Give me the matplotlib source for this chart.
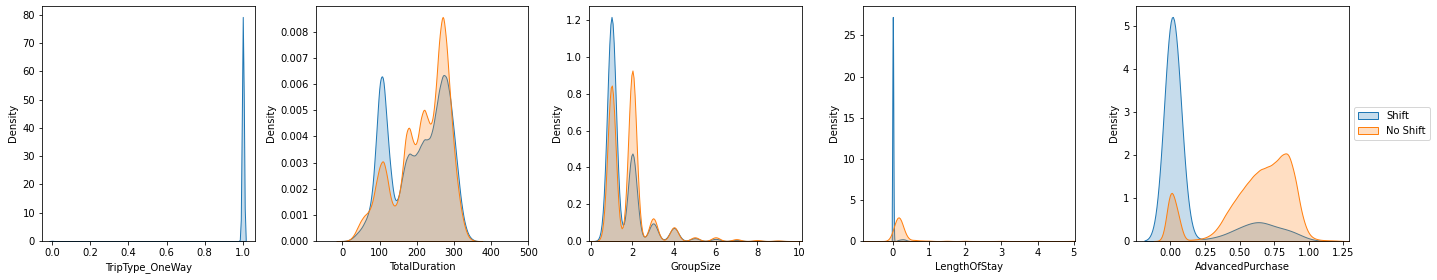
import numpy as np
import pandas as pd
import matplotlib
matplotlib.use("Agg")
import matplotlib.pyplot as plt
import seaborn as sns

# ---- data: share of passengers (%) at each value, per class ----
labels = ["Shift", "No Shift"]
colors = ["#1f77b4", "#ff7f0e"]

# TripType_OneWay (No Shift has no variance -> no curve)
trip_vals = [0.0, 1.0]
trip_shift = [0.1, 99.9]

# TotalDuration (minutes)
dur_vals = [10, 20, 30, 40, 50, 60, 70, 80, 90, 100, 110, 120, 130, 140, 150, 160, 170, 180,
            190, 200, 210, 220, 230, 240, 250, 260, 270, 280, 290, 300, 310, 320, 330, 340, 350]
dur_shift = [0.01, 0.05, 0.15, 0.3, 0.45, 0.7, 1.0, 1.7, 3.6, 6.1, 6.3, 4.2, 2.5, 1.4, 1.5, 2.3, 3.0, 3.3,
             3.1, 3.2, 3.5, 3.8, 3.7, 3.9, 4.7, 5.6, 6.2, 6.1, 5.3, 4.0, 2.6, 1.3, 0.55, 0.18, 0.05]
dur_noshift = [0.01, 0.05, 0.2, 0.5, 0.8, 1.0, 1.1, 1.4, 2.2, 2.9, 3.2, 2.5, 1.55, 1.25, 1.55, 2.4, 4.2, 4.5,
               3.7, 3.6, 4.7, 5.2, 4.6, 4.3, 5.5, 7.8, 9.0, 7.6, 5.4, 3.5, 2.1, 1.1, 0.45, 0.12, 0.03]

# GroupSize
grp_vals = [1, 2, 3, 4, 5, 6, 7, 8, 9]
grp_shift = [63.2, 24.7, 5.0, 3.7, 0.8, 0.6, 0.3, 0.1, 0.05]
grp_noshift = [41.8, 45.7, 6.1, 3.7, 1.0, 1.0, 0.5, 0.25, 0.15]

# LengthOfStay
los_shift_vals = [0.0, 0.1, 0.125, 0.15, 0.175, 0.2, 0.225, 0.25, 0.275, 0.3, 0.325,
                  0.35, 0.375, 0.4, 0.425, 0.45]
los_shift = [95, 0.125, 0.2, 0.3, 0.375, 0.45, 0.5, 0.525, 0.55, 0.525, 0.475,
             0.375, 0.275, 0.175, 0.1, 0.05]
los_noshift_vals = [0.0, 0.1, 0.2, 0.3, 0.4, 0.6, 0.8, 1.0, 1.5, 2.0, 3.0, 4.0, 5.0]
los_noshift = [8, 33, 35, 12, 3, 2.5, 1.2, 0.8, 0.6, 0.5, 0.3, 0.2, 0.3]

# AdvancedPurchase
adv_vals = [0.0, 0.05, 0.1, 0.15, 0.2, 0.25, 0.3, 0.35, 0.4, 0.45, 0.5, 0.55, 0.6,
            0.65, 0.7, 0.75, 0.8, 0.85, 0.9, 0.95, 1.0, 1.05, 1.1, 1.15, 1.2]
adv_shift = [52, 26, 0, 0, 0.1, 0.25, 0.35, 0.5, 0.8, 1.2, 1.55, 1.9, 2.2,
             2.35, 2.0, 1.65, 1.45, 1.35, 1.0, 0.6, 0.2, 0.05, 0, 0, 0]
adv_noshift = [6.9, 3.4, 0, 0.15, 0.2, 0.35, 0.75, 1.6, 3.0, 4.15, 5.25, 6.25, 7.2,
               7.9, 8.1, 8.5, 9.4, 10.0, 7.25, 2.6, 0.6, 0.2, 0.1, 0.075, 0.05]


def kde(ax, vals, weights, bw, color, label):
    # seaborn scales bw_method by the weighted std; turn absolute bandwidth into that factor
    sd = np.sqrt(np.cov(np.asarray(vals, float), aweights=np.asarray(weights, float)))
    sns.kdeplot(x=vals, weights=weights, bw_method=bw / sd, fill=True,
                color=color, label=label, ax=ax)


fig, axes = plt.subplots(1, 5, figsize=(1437 / 72, 280 / 72), dpi=72)
fig.subplots_adjust(left=42 / 1437, right=1349 / 1437, bottom=39 / 280,
                    top=1 - 5.7 / 280, wspace=0.285)

ax = axes[0]
kde(ax, trip_vals, trip_shift, 0.005, colors[0], labels[0])
ax.set_xlim(-0.053, 1.063)
ax.set_xlabel("TripType_OneWay")

ax = axes[1]
kde(ax, dur_vals, dur_shift, 6, colors[0], labels[0])
kde(ax, dur_vals, dur_noshift, 6, colors[1], labels[1])
ax.set_xlim(-72, 500)
ax.set_xlabel("TotalDuration")

ax = axes[2]
kde(ax, grp_vals, grp_shift, 0.21, colors[0], labels[0])
kde(ax, grp_vals, grp_noshift, 0.196, colors[1], labels[1])
ax.set_xlim(-0.08, 10.15)
ax.set_xlabel("GroupSize")

ax = axes[3]
kde(ax, los_shift_vals, los_shift, 0.0139, colors[0], labels[0])
kde(ax, los_noshift_vals, los_noshift, 0.09, colors[1], labels[1])
ax.set_xlim(-0.834, 5.047)
ax.set_xlabel("LengthOfStay")

ax = axes[4]
kde(ax, adv_vals, adv_shift, 0.056, colors[0], labels[0])
kde(ax, adv_vals, adv_noshift, 0.03, colors[1], labels[1])
ax.set_xlim(-0.248, 1.29)
ax.set_xlabel("AdvancedPurchase")
ax.legend(loc="center left", bbox_to_anchor=(1, 0.5))

for ax in axes:
    ax.set_ylabel("Density")

fig.savefig("out.png", dpi=72, facecolor="white")
